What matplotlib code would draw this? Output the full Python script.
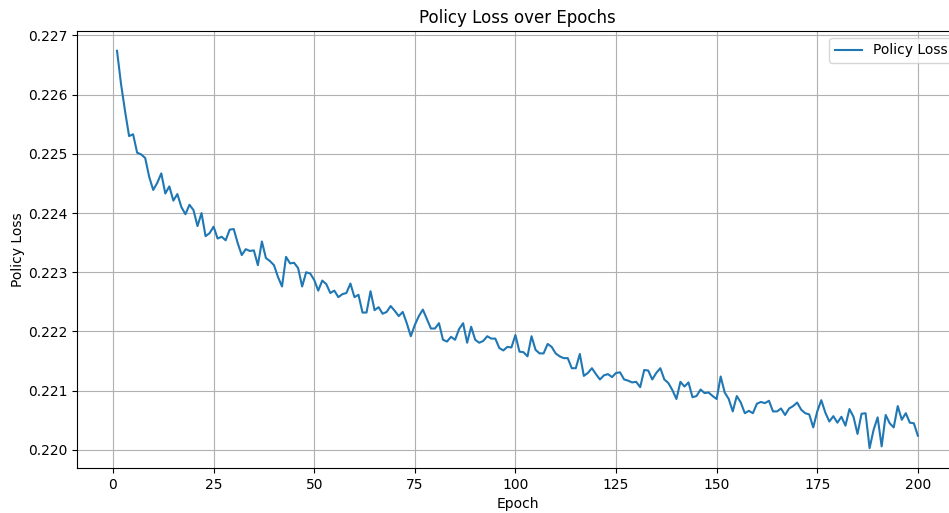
import numpy as np
import matplotlib
matplotlib.use('Agg')
from matplotlib import pyplot as plt

# policy loss per epoch
epochs = np.arange(1, 201)
policy_loss = [
    0.22674, 0.22618, 0.22572, 0.22530, 0.22533, 0.22502, 0.22499, 0.22493, 0.22461, 0.22439,
    0.22451, 0.22467, 0.22433, 0.22445, 0.22421, 0.22432, 0.22410, 0.22398, 0.22414, 0.22405,
    0.22378, 0.22400, 0.22361, 0.22366, 0.22377, 0.22357, 0.22360, 0.22354, 0.22372, 0.22373,
    0.22349, 0.22329, 0.22339, 0.22336, 0.22337, 0.22312, 0.22352, 0.22324, 0.22319, 0.22312,
    0.22292, 0.22276, 0.22326, 0.22315, 0.22316, 0.22307, 0.22276, 0.22300, 0.22298, 0.22287,
    0.22269, 0.22286, 0.22280, 0.22265, 0.22269, 0.22258, 0.22263, 0.22265, 0.22281, 0.22258,
    0.22262, 0.22232, 0.22232, 0.22268, 0.22236, 0.22241, 0.22230, 0.22233, 0.22243, 0.22235,
    0.22226, 0.22233, 0.22214, 0.22192, 0.22211, 0.22226, 0.22237, 0.22221, 0.22205, 0.22205,
    0.22214, 0.22186, 0.22183, 0.22191, 0.22186, 0.22204, 0.22214, 0.22181, 0.22208, 0.22186,
    0.22181, 0.22184, 0.22192, 0.22188, 0.22188, 0.22172, 0.22168, 0.22174, 0.22173, 0.22194,
    0.22166, 0.22165, 0.22158, 0.22192, 0.22169, 0.22163, 0.22163, 0.22179, 0.22174, 0.22163,
    0.22158, 0.22155, 0.22155, 0.22138, 0.22138, 0.22162, 0.22125, 0.22130, 0.22138, 0.22128,
    0.22119, 0.22126, 0.22128, 0.22123, 0.22130, 0.22131, 0.22119, 0.22117, 0.22114, 0.22115,
    0.22106, 0.22135, 0.22134, 0.22119, 0.22130, 0.22138, 0.22119, 0.22113, 0.22101, 0.22086,
    0.22115, 0.22107, 0.22114, 0.22089, 0.22091, 0.22102, 0.22096, 0.22097, 0.22091, 0.22086,
    0.22124, 0.22097, 0.22086, 0.22065, 0.22091, 0.22080, 0.22062, 0.22066, 0.22062, 0.22078,
    0.22081, 0.22079, 0.22083, 0.22065, 0.22065, 0.22070, 0.22059, 0.22070, 0.22074, 0.22080,
    0.22068, 0.22062, 0.22060, 0.22038, 0.22065, 0.22084, 0.22063, 0.22048, 0.22057, 0.22046,
    0.22056, 0.22041, 0.22069, 0.22056, 0.22027, 0.22061, 0.22062, 0.22003, 0.22034, 0.22055,
    0.22006, 0.22059, 0.22045, 0.22038, 0.22074, 0.22051, 0.22062, 0.22046, 0.22045, 0.22024,
]

fig = plt.figure(figsize=(9.49, 5.13), dpi=100)
# axes run past the right edge, like the cropped original
ax = fig.add_axes([0.0811, 0.0877, 0.9283, 0.852])
ax.plot(epochs, policy_loss, label='Policy Loss')
ax.set_title('Policy Loss over Epochs')
ax.set_xlabel('Epoch')
ax.set_ylabel('Policy Loss', labelpad=2)
ax.legend(loc='upper right', bbox_to_anchor=(1.003, 1.0))
ax.grid(True)

fig.savefig('out.png', dpi=100)
